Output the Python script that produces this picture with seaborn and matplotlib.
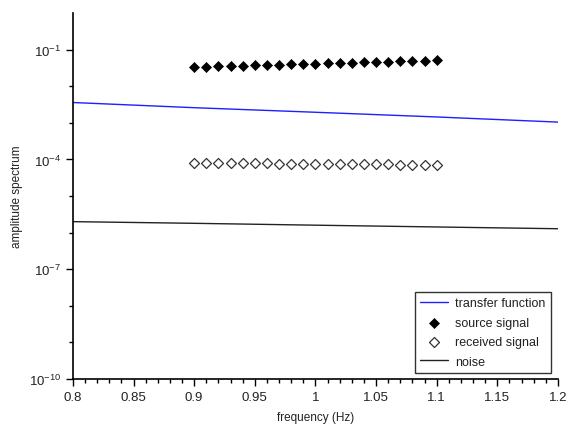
import numpy as np
import pandas as pd
import matplotlib
matplotlib.use("Agg")
import matplotlib.pyplot as plt
import matplotlib.ticker as mticker
import seaborn as sns

# ---- data ----
tf_freq = [0.8, 0.9, 1.0, 1.1, 1.2]
tf_amp = [3.6e-3, 2.6e-3, 1.95e-3, 1.45e-3, 1.05e-3]

noise_freq = [0.8, 0.9, 1.0, 1.1, 1.2]
noise_amp = [2.0e-6, 1.8e-6, 1.6e-6, 1.43e-6, 1.28e-6]

sig_freq = [0.90, 0.91, 0.92, 0.93, 0.94, 0.95, 0.96, 0.97, 0.98, 0.99, 1.00,
            1.01, 1.02, 1.03, 1.04, 1.05, 1.06, 1.07, 1.08, 1.09, 1.10]
source_amp = [0.034, 0.0347, 0.0354, 0.0361, 0.0368, 0.0376, 0.0384, 0.0392,
              0.0400, 0.0408, 0.0417, 0.0425, 0.0434, 0.0443, 0.0452, 0.0461,
              0.0471, 0.0481, 0.0491, 0.0501, 0.0512]
received_amp = [8.1e-5, 8.05e-5, 8.0e-5, 7.95e-5, 7.9e-5, 7.85e-5, 7.8e-5,
                7.75e-5, 7.7e-5, 7.65e-5, 7.6e-5, 7.55e-5, 7.5e-5, 7.45e-5,
                7.4e-5, 7.35e-5, 7.3e-5, 7.25e-5, 7.2e-5, 7.15e-5, 7.1e-5]

x_ticks = [0.8, 0.85, 0.9, 0.95, 1.0, 1.05, 1.1, 1.15, 1.2]
x_labels = ["0.8", "0.85", "0.9", "0.95", "1", "1.05", "1.1", "1.15", "1.2"]
y_major = [1e-10, 1e-7, 1e-4, 1e-1]
y_minor = [1e-9, 1e-8, 1e-6, 1e-5, 1e-3, 1e-2]

tf_df = pd.DataFrame({"f": tf_freq, "a": tf_amp})
noise_df = pd.DataFrame({"f": noise_freq, "a": noise_amp})
src_df = pd.DataFrame({"f": sig_freq, "a": source_amp})
rec_df = pd.DataFrame({"f": sig_freq, "a": received_amp})

sns.set_theme(style="ticks")
plt.rcParams["font.family"] = ["Liberation Sans", "DejaVu Sans"]
plt.rcParams["mathtext.fontset"] = "custom"
plt.rcParams["mathtext.rm"] = "Liberation Sans"
plt.rcParams["mathtext.it"] = "Liberation Sans"
plt.rcParams["mathtext.default"] = "regular"

fig = plt.figure(figsize=(5.74, 4.27), dpi=100)
ax = fig.add_axes([0.127, 0.110, 0.845, 0.857])

sns.lineplot(data=tf_df, x="f", y="a", ax=ax, color="#1f1fff", lw=1.0,
             label="transfer function")
sns.scatterplot(data=src_df, x="f", y="a", ax=ax, marker="D", s=26,
                color="black", edgecolor="black", linewidth=0.5,
                label="source signal")
sns.scatterplot(data=rec_df, x="f", y="a", ax=ax, marker="D", s=26,
                facecolor="white", edgecolor="#333333", linewidth=0.9,
                label="received signal")
sns.lineplot(data=noise_df, x="f", y="a", ax=ax, color="#222222", lw=1.0,
             label="noise")

ax.set_yscale("log")
ax.set_xlim(0.8, 1.2)
ax.set_ylim(1e-10, 1e0)
ax.set_xticks(x_ticks)
ax.set_xticklabels(x_labels)
ax.xaxis.set_minor_locator(mticker.MultipleLocator(0.01))
ax.yaxis.set_major_locator(mticker.FixedLocator(y_major))
ax.yaxis.set_major_formatter(mticker.FuncFormatter(
    lambda v, p: r"$10^{%d}$" % int(round(np.log10(v)))))
ax.yaxis.set_minor_locator(mticker.FixedLocator(y_minor))
ax.yaxis.set_minor_formatter(mticker.NullFormatter())

ax.tick_params(axis="both", which="major", direction="out", length=5,
               width=1, labelsize=9.5, color="black", labelcolor="#222222")
ax.tick_params(axis="both", which="minor", direction="out", length=3,
               width=1, color="black")
for s in ["top", "right"]:
    ax.spines[s].set_visible(False)
for s in ["left", "bottom"]:
    ax.spines[s].set_linewidth(1.2)
    ax.spines[s].set_color("black")

ax.set_xlabel("frequency (Hz)", fontsize=8.5, color="#222222", labelpad=6)
ax.set_ylabel("amplitude spectrum", fontsize=8.5, color="#222222", labelpad=4)

leg = ax.legend(loc="lower right", bbox_to_anchor=(0.99, 0.01), fontsize=9,
                frameon=True, fancybox=False, edgecolor="black",
                borderpad=0.4, labelspacing=0.6, handlelength=2.2,
                handletextpad=0.6, borderaxespad=0.2)
leg.get_frame().set_linewidth(1.0)
for t in leg.get_texts():
    t.set_color("#222222")

fig.savefig("out.png", dpi=100)
